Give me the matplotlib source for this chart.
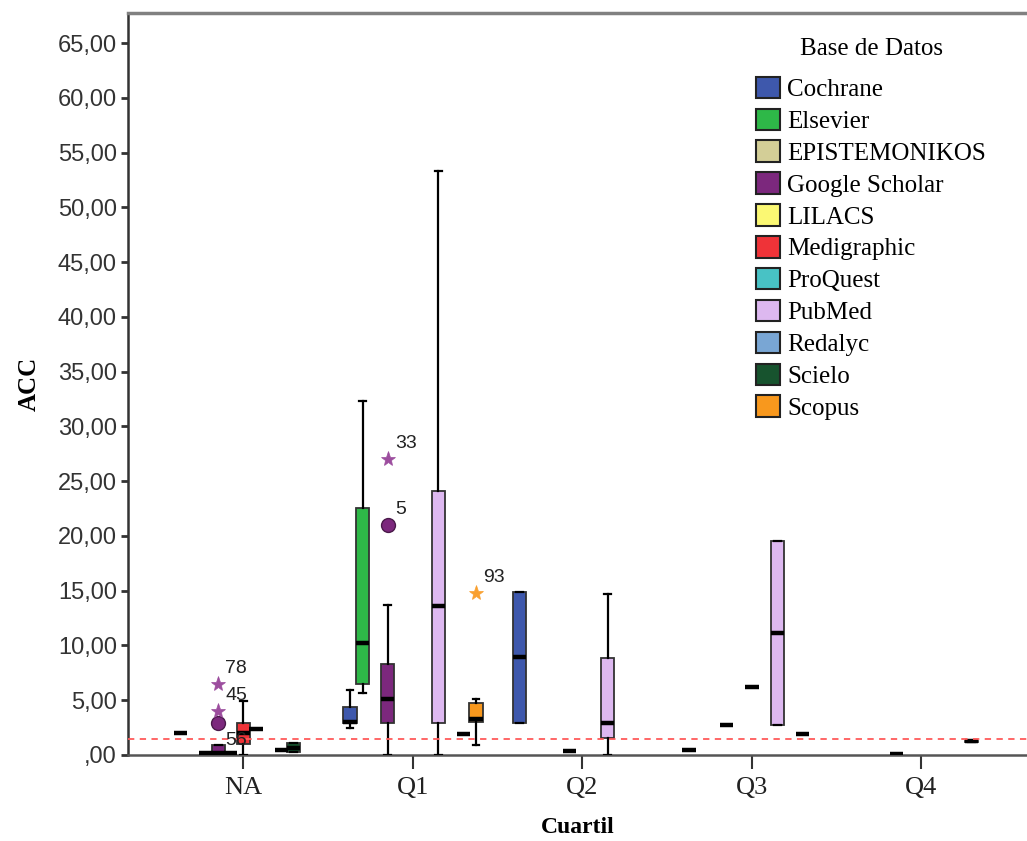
import matplotlib
matplotlib.use("Agg")
import matplotlib.pyplot as plt
from matplotlib.patches import Patch

# ---------------- data ----------------
categories = ["NA", "Q1", "Q2", "Q3", "Q4"]
databases = ["Cochrane", "Elsevier", "EPISTEMONIKOS", "Google Scholar", "LILACS",
             "Medigraphic", "ProQuest", "PubMed", "Redalyc", "Scielo", "Scopus"]
colors = ["#3E58AC", "#2EB848", "#D3CE97", "#7C287D", "#FBF873", "#EF3338",
          "#48C2C5", "#DDB8F0", "#79A6D4", "#17532E", "#F8981D"]

# five-number summaries (whisker low, Q1, median, Q3, whisker high) per cuartil; None = no data
cochrane = [(2.0, 2.0, 2.0, 2.0, 2.0), (2.5, 2.9, 3.05, 4.4, 5.9),
            (2.9, 2.9, 8.93, 14.9, 14.9), (0.45, 0.45, 0.45, 0.45, 0.45), None]
elsevier = [None, (5.7, 6.5, 10.2, 22.6, 32.3), None, None, None]
epistemonikos = [(0.2, 0.2, 0.2, 0.2, 0.2), None, None, None, None]
google_scholar = [(0.0, 0.2, 0.22, 0.9, 0.9), (0.0, 2.95, 5.1, 8.3, 13.7), None,
                  (2.7, 2.7, 2.7, 2.7, 2.7), (0.1, 0.1, 0.1, 0.1, 0.1)]
lilacs = [(0.2, 0.2, 0.2, 0.2, 0.2), None, (0.4, 0.4, 0.4, 0.4, 0.4), None, None]
medigraphic = [(0.0, 1.0, 2.0, 2.9, 4.9), None, None, (6.25, 6.25, 6.25, 6.25, 6.25), None]
proquest = [(2.4, 2.4, 2.4, 2.4, 2.4), None, None, None, None]
pubmed = [None, (0.0, 2.95, 13.6, 24.1, 53.3), (0.0, 1.55, 2.9, 8.85, 14.7),
          (2.75, 2.75, 11.1, 19.5, 19.5), None]
redalyc = [(0.45, 0.45, 0.45, 0.45, 0.45), None, None, None, None]
scielo = [(0.3, 0.3, 0.6, 1.1, 1.1), (1.9, 1.9, 1.9, 1.9, 1.9), None,
          (1.9, 1.9, 1.9, 1.9, 1.9), (1.2, 1.2, 1.25, 1.3, 1.3)]
scopus = [None, (0.9, 3.0, 3.3, 4.75, 5.1), None, None, None]

summaries = [cochrane, elsevier, epistemonikos, google_scholar, lilacs, medigraphic,
             proquest, pubmed, redalyc, scielo, scopus]

# outliers: database, cuartil, value, marker kind, case label
out_db = ["Google Scholar", "Google Scholar", "Google Scholar", "Google Scholar",
          "Google Scholar", "Google Scholar", "Scopus"]
out_cat = ["NA", "NA", "NA", "NA", "Q1", "Q1", "Q1"]
out_val = [2.9, 4.0, 6.5, -0.1, 21.0, 27.0, 14.8]
out_kind = ["circle", "star", "star", "none", "circle", "star", "star"]
out_label = ["", "45", "78", "56", "5", "33", "93"]

ref_line = 1.45
yticks = [0, 5, 10, 15, 20, 25, 30, 35, 40, 45, 50, 55, 60, 65]

# ---------------- plot ----------------
W, H = 1027, 841
fig = plt.figure(figsize=(W / 100, H / 100), dpi=100)
ax = fig.add_axes([128 / W, 1 - 755 / H, (W - 128) / W, (755 - 13) / H])

step = 0.0743
bw = 0.078
for i, (name, summ) in enumerate(zip(databases, summaries)):
    stats, pos = [], []
    for c, s in enumerate(summ):
        if s is None:
            continue
        lo, q1, med, q3, hi = s
        stats.append(dict(whislo=lo, q1=q1, med=med, q3=q3, whishi=hi, fliers=[]))
        pos.append(c + (i - 5) * step)
    if not stats:
        continue
    ax.bxp(stats, positions=pos, widths=bw, patch_artist=True, showfliers=False,
           capwidths=0.04,
           boxprops=dict(facecolor=colors[i], edgecolor="#333333", linewidth=1.3),
           medianprops=dict(color="black", linewidth=3.2, solid_capstyle="butt"),
           whiskerprops=dict(color="black", linewidth=1.6),
           capprops=dict(color="black", linewidth=1.6),
           manage_ticks=False, zorder=3)

star_cols = {"Google Scholar": "#9C4D9E", "Scopus": "#F9A030"}
for db, cat, v, kind, lab in zip(out_db, out_cat, out_val, out_kind, out_label):
    i = databases.index(db)
    x = categories.index(cat) + (i - 5) * step
    if kind == "circle":
        ax.plot(x, v, "o", ms=10, mfc=colors[i], mec="#4a1a4a", mew=1, zorder=5, clip_on=False)
    elif kind == "star":
        ax.plot(x, v, "*", ms=11, mfc=star_cols[db], mec=star_cols[db], mew=0.5, zorder=5)
    if lab:
        ax.annotate(lab, (x, v), xytext=(7, 7), textcoords="offset pixels",
                    fontsize=14, family="Liberation Sans", color="#222222",
                    ha="left", va="bottom", zorder=6, annotation_clip=False)

ax.axhline(ref_line, color="#FF5A5A", lw=1.3, ls=(0, (3.5, 3)), zorder=4)

ax.set_xlim(-0.681, (W - 243.5) / 169.5)
ax.set_ylim(0, 67.76)
ax.set_xticks(range(len(categories)))
ax.set_xticklabels(categories, family="Liberation Serif", fontsize=19, color="#222222")
ax.set_yticks(yticks)
ax.set_yticklabels([",00" if v == 0 else f"{v:.2f}".replace(".", ",") for v in yticks],
                   family="Liberation Sans", fontsize=17, color="#333333")
ax.tick_params(axis="y", length=5, width=2, color="#333333", pad=3)
ax.tick_params(axis="x", length=10, width=1.5, color="#333333", pad=6)

for s in ["right"]:
    ax.spines[s].set_visible(False)
ax.spines["top"].set_color("#808080")
ax.spines["top"].set_linewidth(2.5)
ax.spines["left"].set_color("#333333")
ax.spines["left"].set_linewidth(1.8)
ax.spines["bottom"].set_color("#555555")
ax.spines["bottom"].set_linewidth(1.8)

ax.set_ylabel("ACC", family="Liberation Serif", fontweight="bold", fontsize=18, labelpad=12)
ax.set_xlabel("Cuartil", family="Liberation Serif", fontweight="bold", fontsize=17, labelpad=13)

handles = [Patch(facecolor=c, edgecolor="#222222", linewidth=1.5) for c in colors]
leg = fig.legend(handles, databases, loc="upper left", bbox_to_anchor=(756 / W, 1 - 38 / H),
                 frameon=False, title="Base de Datos",
                 prop=dict(family="Liberation Serif", size=18),
                 title_fontproperties=dict(family="Liberation Serif", size=18),
                 handlelength=0.95, handleheight=0.95, handletextpad=0.3,
                 labelspacing=0.3, borderpad=0, borderaxespad=0)
leg._legend_box.sep = 12

fig.savefig("out.png", dpi=100)
